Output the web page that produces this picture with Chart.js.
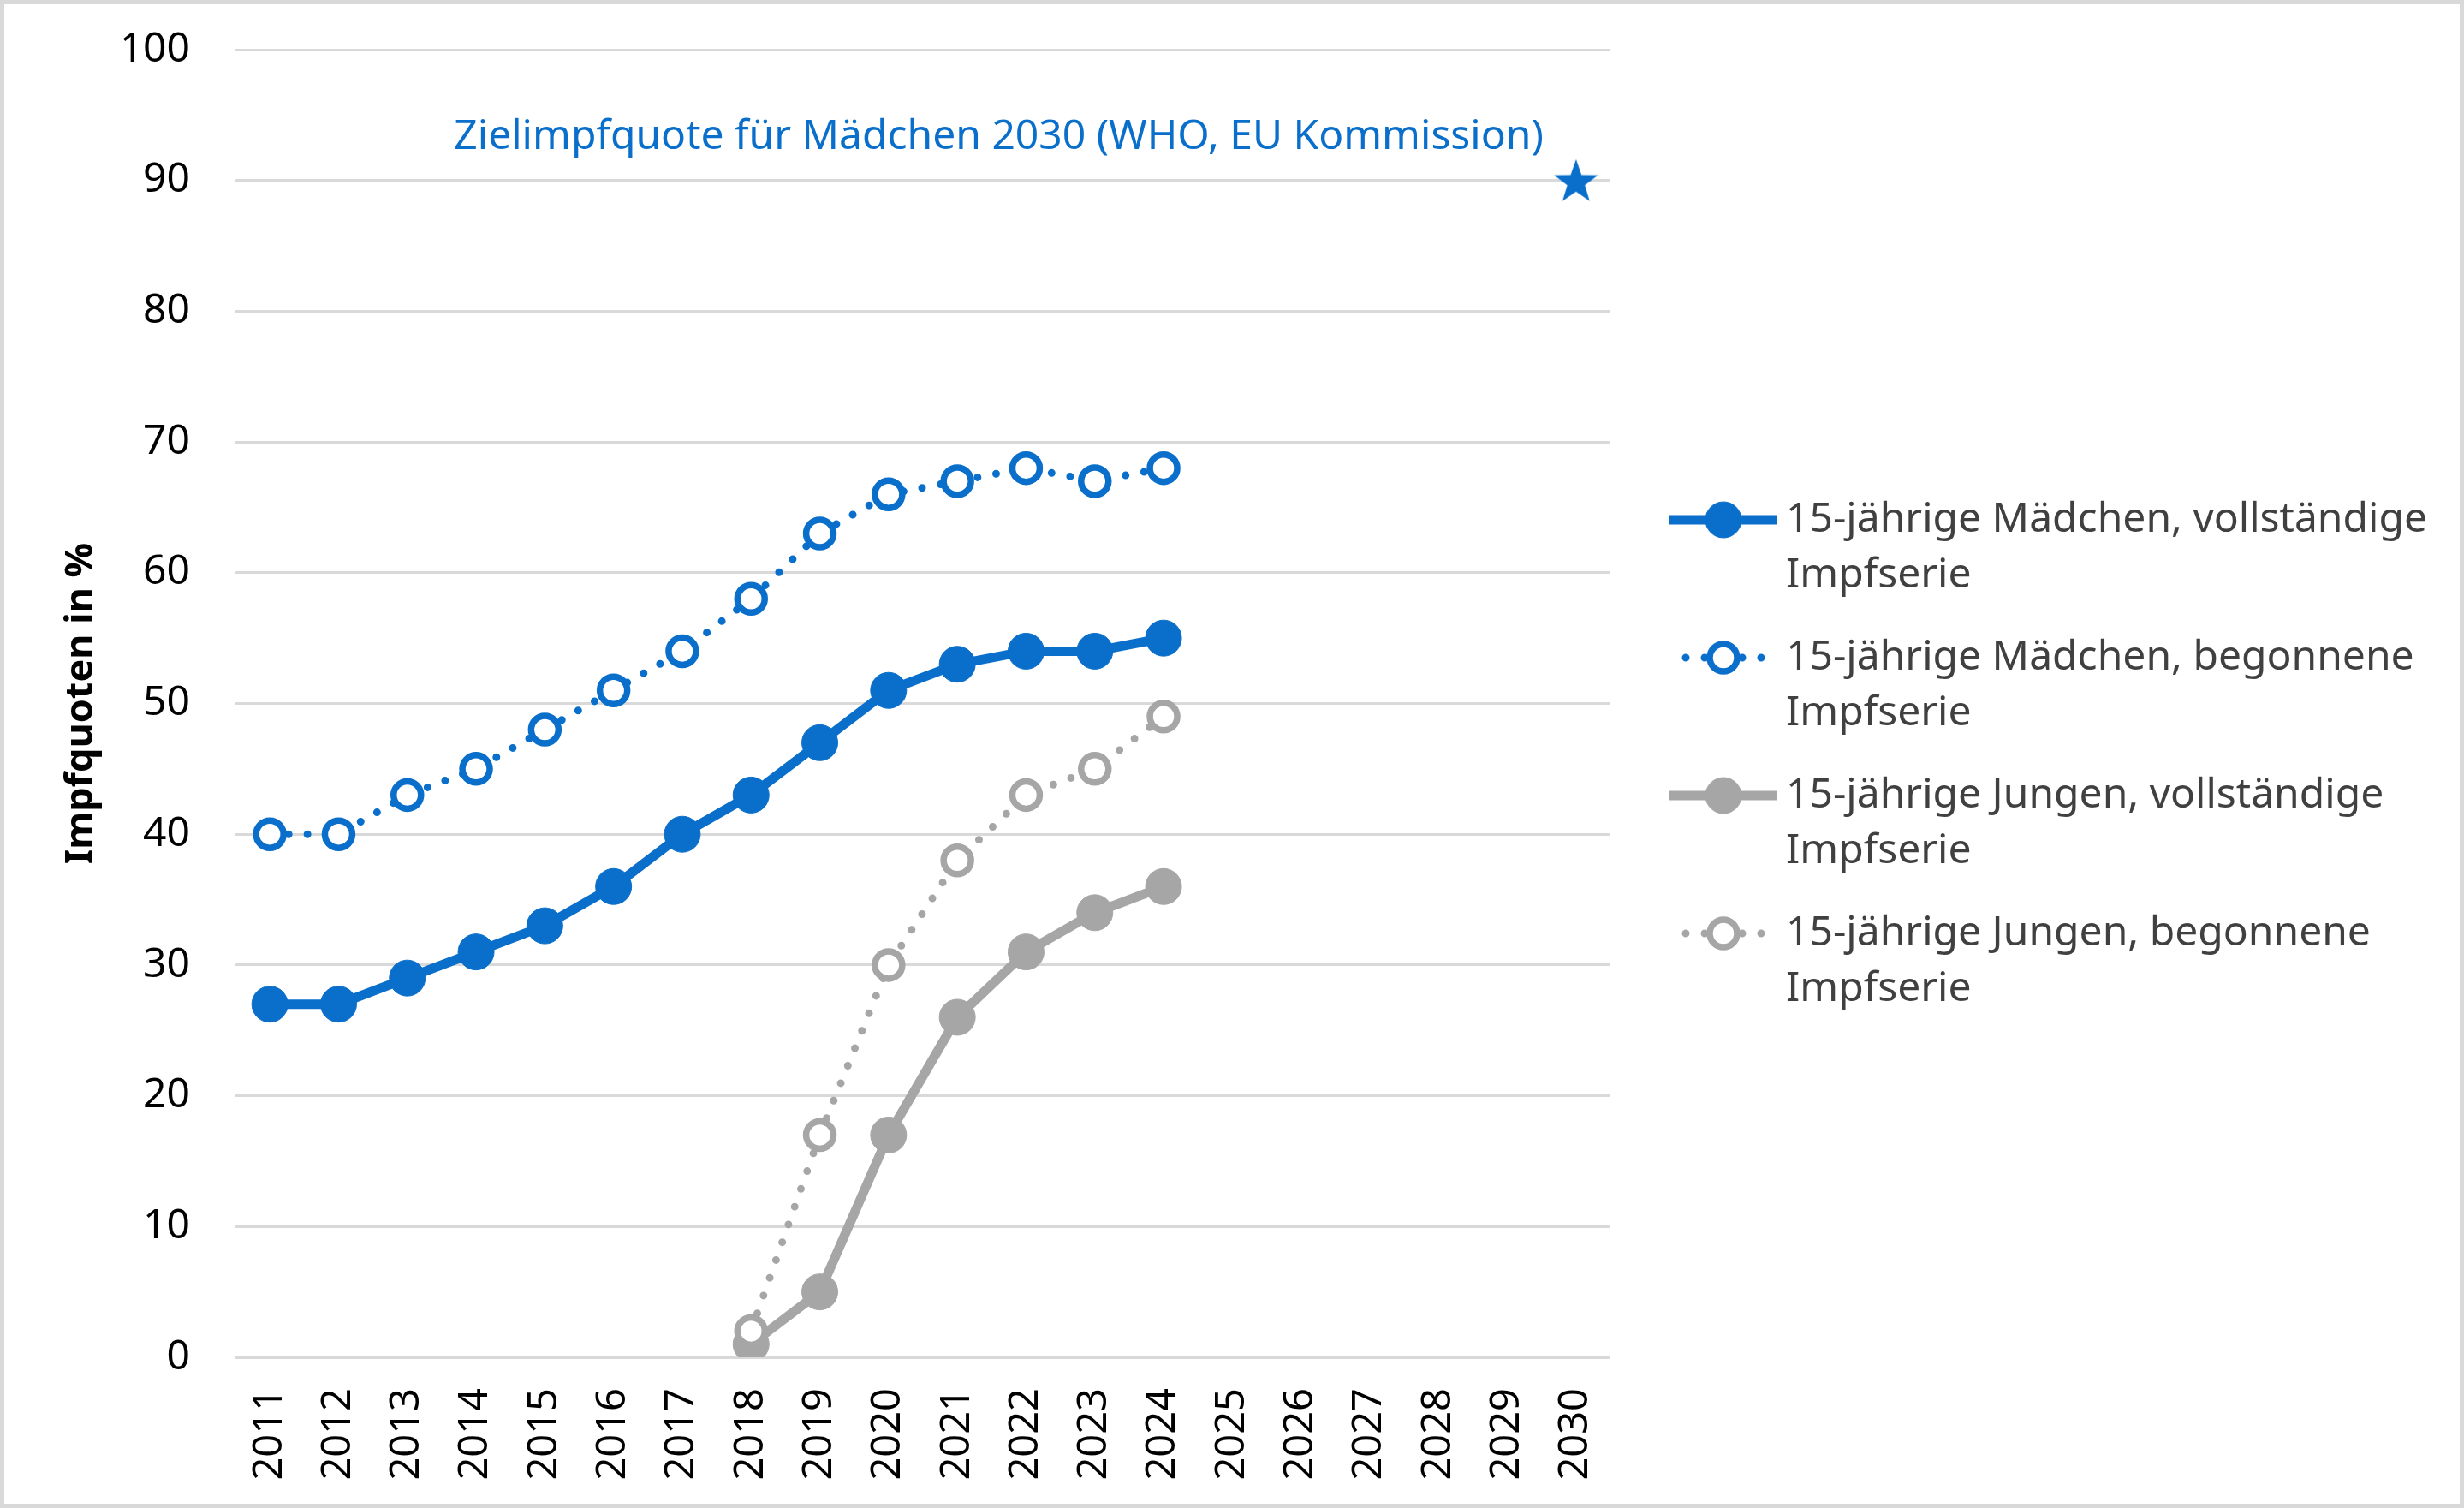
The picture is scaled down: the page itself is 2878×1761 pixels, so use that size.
<!DOCTYPE html>
<html>
<head>
<meta charset="utf-8">
<script src="https://cdn.jsdelivr.net/npm/chart.js@4.4.1/dist/chart.umd.min.js"></script>
<style>
  html, body { margin: 0; padding: 0; background: #ffffff; }
  #wrap { width: 2878px; height: 1761px; }
</style>
</head>
<body>
<div id="wrap"><canvas id="chart"></canvas></div>
<script>
// Jahre auf der x-Achse
const years = ['2011', '2012', '2013', '2014', '2015', '2016', '2017', '2018', '2019', '2020',
               '2021', '2022', '2023', '2024', '2025', '2026', '2027', '2028', '2029', '2030'];

// Werte ab 2011
const girlsComplete = [27, 27, 29, 31, 33, 36, 40, 43, 47, 51, 53, 54, 54, 55];
const girlsStarted  = [40, 40, 43, 45, 48, 51, 54, 58, 63, 66, 67, 68, 67, 68];
// Werte ab 2018
const boysStartYear = '2018';
const boysComplete  = [1, 5, 17, 26, 31, 34, 36];
const boysStarted   = [2, 17, 30, 38, 43, 45, 49];

const targetYear = '2030';
const targetValue = 90;
const targetLabel = 'Zielimpfquote für Mädchen 2030 (WHO, EU Kommission)';

const yTicks = [0, 10, 20, 30, 40, 50, 60, 70, 80, 90, 100];

const legendLabels = [
    ['15-jährige Mädchen, vollständige', 'Impfserie'],
    ['15-jährige Mädchen, begonnene', 'Impfserie'],
    ['15-jährige Jungen, vollständige', 'Impfserie'],
    ['15-jährige Jungen, begonnene', 'Impfserie']
];

const BLUE = '#0A6FCB';
const GREY = '#A6A6A6';
const FONT = '"Noto Sans", "Open Sans", sans-serif';

function fromYear(values, startYear) {
    const start = years.indexOf(startYear);
    return years.map(function (y, i) {
        const v = values[i - start];
        return (i >= start && v !== undefined) ? v : null;
    });
}

// gefuellter Stern als Punktsymbol
function makeStar(size, color) {
    const c = document.createElement('canvas');
    c.width = size; c.height = size;
    const g = c.getContext('2d');
    const cx = size / 2, cy = size / 2 + size * 0.04;
    const R = size / 2, r = R * 0.4;
    g.beginPath();
    for (let i = 0; i < 10; i++) {
        const rad = i % 2 === 0 ? R : r;
        const a = -Math.PI / 2 + i * Math.PI / 5;
        g.lineTo(cx + rad * Math.cos(a), cy + rad * Math.sin(a));
    }
    g.closePath();
    g.fillStyle = color;
    g.fill();
    return c;
}

const solidLine = { borderWidth: 11, pointRadius: 21, pointBorderWidth: 1, pointStyle: 'circle' };
const dottedLine = { borderWidth: 9, borderDash: [0, 22], borderCapStyle: 'round',
                     pointRadius: 16, pointBorderWidth: 7.5, pointStyle: 'circle' };

const datasets = [
    Object.assign({ label: legendLabels[0].join(' '), data: fromYear(girlsComplete, '2011'),
        borderColor: BLUE, backgroundColor: BLUE, pointBackgroundColor: BLUE, pointBorderColor: BLUE, order: 3 }, solidLine),
    Object.assign({ label: legendLabels[1].join(' '), data: fromYear(girlsStarted, '2011'),
        borderColor: BLUE, backgroundColor: '#ffffff', pointBackgroundColor: '#ffffff', pointBorderColor: BLUE, order: 2 }, dottedLine),
    Object.assign({ label: legendLabels[2].join(' '), data: fromYear(boysComplete, boysStartYear),
        borderColor: GREY, backgroundColor: GREY, pointBackgroundColor: GREY, pointBorderColor: GREY, order: 1 }, solidLine),
    Object.assign({ label: legendLabels[3].join(' '), data: fromYear(boysStarted, boysStartYear),
        borderColor: GREY, backgroundColor: '#ffffff', pointBackgroundColor: '#ffffff', pointBorderColor: GREY, order: 0 }, dottedLine),
    {
        label: 'target',
        data: years.map(function (y) { return y === targetYear ? targetValue : null; }),
        showLine: false,
        pointStyle: makeStar(54, BLUE),
        pointRadius: 27,
        borderColor: BLUE,
        backgroundColor: BLUE,
        order: -1
    }
];

// Rahmen, Zielbeschriftung und Legende
const extras = {
    id: 'extras',
    afterDatasetsDraw(chart) {
        const ctx = chart.ctx;
        const x = chart.scales.x, y = chart.scales.y;
        ctx.save();
        // Zielbeschriftung
        ctx.font = '48px ' + FONT;
        ctx.fillStyle = BLUE;
        ctx.textAlign = 'right';
        ctx.textBaseline = 'middle';
        ctx.fillText(targetLabel, x.getPixelForValue(years.indexOf(targetYear)) - 38,
                     y.getPixelForValue(targetValue) - 50);

        // Legende
        const lx0 = 1950, lx1 = 2076, tx = 2086;
        let ly = 607;
        chart.data.datasets.slice(0, 4).forEach(function (ds, i) {
            const mx = (lx0 + lx1) / 2;
            ctx.save();
            ctx.strokeStyle = ds.borderColor;
            ctx.lineWidth = ds.borderWidth;
            ctx.lineCap = ds.borderDash ? 'round' : 'butt';
            ctx.setLineDash(ds.borderDash || []);
            ctx.beginPath();
            if (ds.borderDash) {
                ctx.moveTo(mx, ly); ctx.lineTo(lx0, ly);
                ctx.moveTo(mx, ly); ctx.lineTo(lx1, ly);
            } else {
                ctx.moveTo(lx0, ly); ctx.lineTo(lx1, ly);
            }
            ctx.stroke();
            ctx.setLineDash([]);
            ctx.beginPath();
            ctx.arc(mx, ly, ds.pointRadius, 0, Math.PI * 2);
            ctx.fillStyle = ds.pointBackgroundColor;
            ctx.fill();
            ctx.lineWidth = ds.pointBorderWidth;
            ctx.strokeStyle = ds.pointBorderColor;
            ctx.stroke();
            ctx.restore();

            ctx.font = '48px ' + FONT;
            ctx.fillStyle = '#404040';
            ctx.textAlign = 'left';
            ctx.textBaseline = 'middle';
            legendLabels[i].forEach(function (line, k) {
                ctx.fillText(line, tx, ly + k * 65);
            });
            ly += 161;
        });

        // Rahmen
        ctx.strokeStyle = '#D9D9D9';
        ctx.lineWidth = 5;
        ctx.strokeRect(2.5, 2.5, chart.width - 5, chart.height - 5);
        ctx.restore();
    }
};

new Chart(document.getElementById('chart'), {
    type: 'line',
    data: { labels: years, datasets: datasets },
    plugins: [extras],
    options: {
        responsive: true,
        maintainAspectRatio: false,
        animation: false,
        devicePixelRatio: 1,
        spanGaps: false,
        layout: { padding: { top: 58, right: 997, left: 0, bottom: 0 } },
        plugins: {
            legend: { display: false },
            tooltip: { enabled: false }
        },
        scales: {
            x: {
                offset: true,
                grid: { display: false, drawTicks: false },
                border: { display: false },
                ticks: {
                    autoSkip: false,
                    maxRotation: 90,
                    minRotation: 90,
                    padding: 36,
                    color: '#000000',
                    font: { family: FONT, size: 47 }
                },
                afterFit: function (scale) {
                    scale.height = 176;
                    scale.paddingLeft = 0;
                    scale.paddingRight = 0;
                }
            },
            y: {
                min: 0,
                max: 100,
                afterBuildTicks: function (scale) {
                    scale.ticks = yTicks.map(function (v) { return { value: v }; });
                },
                grid: { color: '#D9D9D9', lineWidth: 3, drawTicks: false },
                border: { display: false },
                ticks: {
                    padding: 53,
                    color: '#000000',
                    font: { family: FONT, size: 48 }
                },
                title: {
                    display: true,
                    text: 'Impfquoten in %',
                    color: '#000000',
                    padding: { top: 68, bottom: 0 },
                    font: { family: FONT, size: 45, weight: 'bold' }
                },
                afterFit: function (scale) {
                    scale.width = 275;
                    scale.paddingTop = 0;
                    scale.paddingBottom = 0;
                }
            }
        }
    }
});
</script>
</body>
</html>
